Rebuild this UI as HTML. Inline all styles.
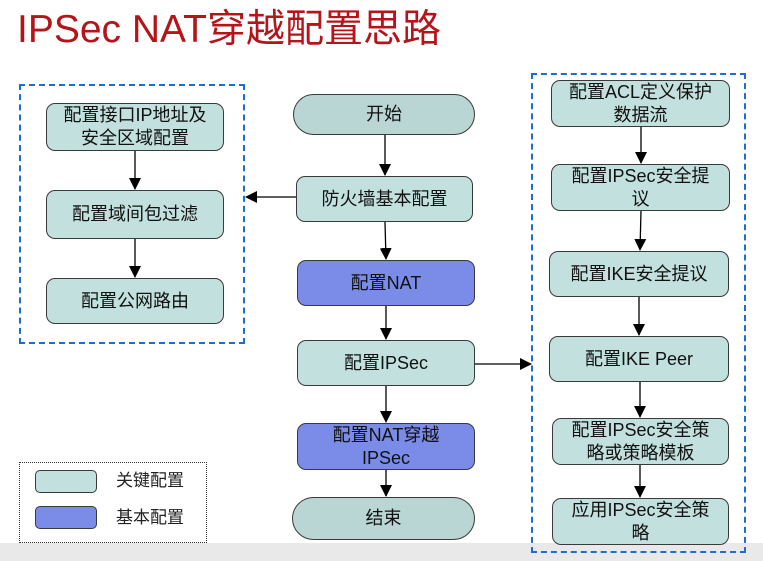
<!DOCTYPE html>
<html><head><meta charset="utf-8"><style>
body{margin:0;width:763px;height:561px;background:#fff;position:relative;overflow:hidden;font-family:"Liberation Sans","Noto Sans CJK SC",sans-serif}
.b{position:absolute;box-sizing:border-box;border:1.5px solid #3a3a3a;border-radius:9px;background:#c2e0dd;display:flex;align-items:center;justify-content:center;text-align:center;font-size:18px;line-height:23px;color:#111;white-space:nowrap}
.p{background:#7b8be8}
.e{border-radius:24px;background:#b9d6d5}
.t{position:absolute;font-size:17px;color:#222}
</style></head><body>
<div style="position:absolute;left:0;top:543px;width:763px;height:18px;background:#e9e9e9"></div>
<div style="position:absolute;left:17px;top:6px;font-size:39px;color:#b4151b;line-height:48px">IPSec NAT穿越配置思路</div>
<div style="position:absolute;left:19px;top:84px;width:226px;height:260px;box-sizing:border-box;border:2px dashed #1b6fd0"></div>
<div style="position:absolute;left:531px;top:73px;width:215px;height:480px;box-sizing:border-box;border:2px dashed #1b6fd0"></div>
<div style="position:absolute;left:19px;top:462px;width:188px;height:81px;box-sizing:border-box;border:1px dotted #333;background:#fff"></div>
<div class="b" style="left:35px;top:470px;width:62px;height:23px;border-radius:5px"></div>
<div class="b p" style="left:35px;top:506px;width:62px;height:23px;border-radius:5px"></div>
<div class="t" style="left:116px;top:466px">关键配置</div>
<div class="t" style="left:116px;top:503px">基本配置</div>

<div class="b" style="left:46px;top:103px;width:178px;height:48px">配置接口IP地址及<br>安全区域配置</div>
<div class="b" style="left:46px;top:190px;width:178px;height:49px">配置域间包过滤</div>
<div class="b" style="left:46px;top:278px;width:178px;height:46px">配置公网路由</div>

<div class="b e" style="left:293px;top:94px;width:182px;height:41px">开始</div>
<div class="b" style="left:296px;top:176px;width:177px;height:46px">防火墙基本配置</div>
<div class="b p" style="left:297px;top:260px;width:178px;height:46px">配置NAT</div>
<div class="b" style="left:297px;top:340px;width:178px;height:46px">配置IPSec</div>
<div class="b p" style="left:297px;top:423px;width:178px;height:47px">配置NAT穿越<br>IPSec</div>
<div class="b e" style="left:292px;top:497px;width:183px;height:43px">结束</div>

<div class="b" style="left:551px;top:80px;width:179px;height:47px">配置ACL定义保护<br>数据流</div>
<div class="b" style="left:551px;top:164px;width:179px;height:47px">配置IPSec安全提<br>议</div>
<div class="b" style="left:549px;top:251px;width:180px;height:46px">配置IKE安全提议</div>
<div class="b" style="left:549px;top:336px;width:180px;height:46px">配置IKE Peer</div>
<div class="b" style="left:552px;top:418px;width:177px;height:47px">配置IPSec安全策<br>略或策略模板</div>
<div class="b" style="left:552px;top:498px;width:177px;height:47px">应用IPSec安全策<br>略</div>

<svg style="position:absolute;left:0;top:0" width="763" height="561">
<defs><marker id="a" markerWidth="12" markerHeight="12" refX="11" refY="6" orient="auto" markerUnits="userSpaceOnUse"><path d="M0,0L12,6L0,12z" fill="#000"/></marker></defs>
<g stroke="#000" stroke-width="1.3" marker-end="url(#a)">
<line x1="135" y1="151" x2="135" y2="189"/>
<line x1="135" y1="239" x2="135" y2="277"/>
<line x1="385" y1="135" x2="385" y2="175"/>
<line x1="385" y1="222" x2="386" y2="259"/>
<line x1="386" y1="306" x2="386" y2="339"/>
<line x1="386" y1="386" x2="386" y2="422"/>
<line x1="386" y1="470" x2="386" y2="496"/>
<line x1="296" y1="197" x2="246" y2="197"/>
<line x1="475" y1="364" x2="531" y2="364"/>
<line x1="641" y1="127" x2="641" y2="163"/>
<line x1="641" y1="211" x2="640" y2="250"/>
<line x1="639" y1="297" x2="639" y2="335"/>
<line x1="640" y1="382" x2="640" y2="417"/>
<line x1="640" y1="465" x2="640" y2="497"/>
</g></svg>
</body></html>
